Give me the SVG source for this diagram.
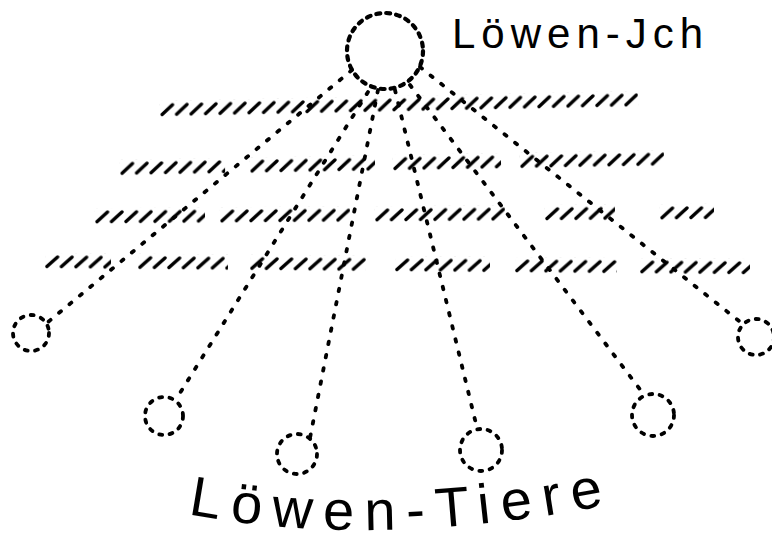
<svg xmlns="http://www.w3.org/2000/svg" width="772" height="542" viewBox="0 0 772 542">
<style>
.big{fill:none;stroke:#000;stroke-width:4.2;stroke-linecap:round;stroke-dasharray:4 6}
.small{fill:none;stroke:#000;stroke-width:3.8;stroke-linecap:round;stroke-dasharray:3 7.5}
.conn{fill:none;stroke:#000;stroke-width:3.8;stroke-linecap:round;stroke-dasharray:2.5 11}
.lbl{font-family:"Liberation Sans","DejaVu Sans",sans-serif;fill:#000}
.hb{fill:url(#hatch)}
</style>
<defs>
<pattern id="hatch" patternUnits="userSpaceOnUse" width="14.5" height="16">
<path d="M2 13.5 L12.5 4" stroke="#000" stroke-width="3.4" stroke-linecap="round"/>
</pattern>
<path id="arc" d="M188 514 Q385 552 632 500"/>
</defs>
<rect width="772" height="542" fill="#fff"/>

<g id="hatching">
<g transform="rotate(-1.2 400 104)">
<rect class="hb" transform="translate(160,96)" width="478" height="16"/>
</g>
<g transform="rotate(-1 391 163)">
<rect class="hb" transform="translate(120,155)" width="105" height="16"/>
<rect class="hb" transform="translate(250,155)" width="125" height="16"/>
<rect class="hb" transform="translate(393,155)" width="108" height="16"/>
<rect class="hb" transform="translate(520,155)" width="144" height="16"/>
</g>
<g transform="rotate(-0.4 404 214)">
<rect class="hb" transform="translate(95,206)" width="110" height="16"/>
<rect class="hb" transform="translate(220,206)" width="130" height="16"/>
<rect class="hb" transform="translate(375,206)" width="130" height="16"/>
<rect class="hb" transform="translate(545,206)" width="70" height="16"/>
<rect class="hb" transform="translate(660,206)" width="54" height="16"/>
</g>
<g transform="rotate(0.5 398 264)">
<rect class="hb" transform="translate(45,256)" width="66" height="16"/>
<rect class="hb" transform="translate(138,256)" width="90" height="16"/>
<rect class="hb" transform="translate(250,256)" width="116" height="16"/>
<rect class="hb" transform="translate(395,256)" width="95" height="16"/>
<rect class="hb" transform="translate(515,256)" width="102" height="16"/>
<rect class="hb" transform="translate(640,256)" width="110" height="16"/>
</g>
</g>

<g id="connectors">
<line class="conn" x1="352" y1="70" x2="48" y2="322"/>
<line class="conn" x1="368" y1="92" x2="175" y2="401"/>
<line class="conn" x1="378" y1="90" x2="310" y2="438"/>
<line class="conn" x1="395" y1="90" x2="477" y2="428"/>
<line class="conn" x1="410" y1="85" x2="645" y2="396"/>
<line class="conn" x1="420" y1="67" x2="744" y2="325"/>
</g>

<g id="loewen-ich">
<circle class="big" cx="385" cy="51" r="38"/>
<text class="lbl" x="452" y="48" font-size="42" letter-spacing="6">Löwen-Jch</text>
</g>

<g id="tier-1"><circle class="small" cx="31" cy="333" r="18"/></g>
<g id="tier-2"><circle class="small" cx="164" cy="416" r="19"/></g>
<g id="tier-3"><circle class="small" cx="297" cy="454" r="20"/></g>
<g id="tier-4"><circle class="small" cx="481" cy="450" r="21"/></g>
<g id="tier-5"><circle class="small" cx="653" cy="415" r="21"/></g>
<g id="tier-6"><circle class="small" cx="756" cy="337" r="18"/></g>

<g id="label-tiere">
<text class="lbl" font-size="56" letter-spacing="11"><textPath href="#arc">Löwen-Tiere</textPath></text>
</g>
</svg>
